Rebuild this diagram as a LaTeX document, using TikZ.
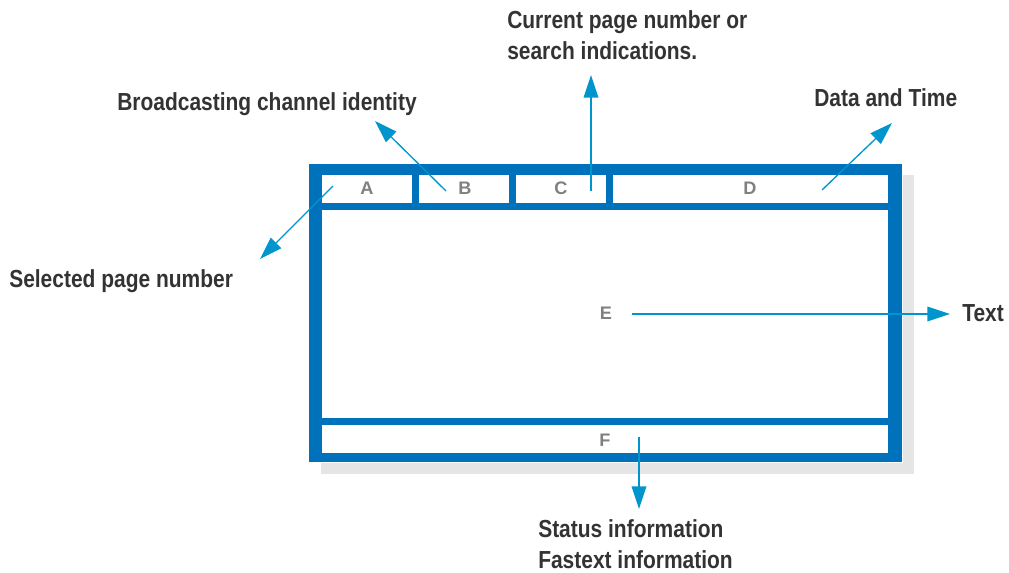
\documentclass[tikz,border=0pt]{standalone}
\usepackage{fontspec}
\setmainfont{Liberation Sans}
\newfontfamily\condfont[FakeStretch=0.85]{Liberation Sans}
\usepackage{xcolor}
\definecolor{ttblue}{RGB}{0,114,187}
\definecolor{ttcyan}{RGB}{0,150,205}
\definecolor{ttgray}{RGB}{128,128,128}
\definecolor{ttdark}{RGB}{51,51,51}
\definecolor{ttshadow}{RGB}{229,229,229}
\usetikzlibrary{arrows.meta}

\begin{document}
\begin{tikzpicture}[
    x={(0.75pt,0)}, y={(0,-0.75pt)},
    cell/.style={fill=white},
    letter/.style={font=\fontsize{13.6}{16}\selectfont\bfseries, text=ttgray, inner sep=0pt},
    callout/.style={font=\condfont\bfseries\fontsize{18.5}{23.25}\selectfont, text=ttdark,
                    inner sep=0pt, anchor=base west, align=left},
    pointer/.style={-{Triangle[length=17pt, width=11pt]}, ttcyan, line width=1pt}
  ]
    \useasboundingbox (0,0) rectangle (1009,573);

    % Screen frame with shadow
    \fill[ttshadow] (321,175) rectangle (914,474);
    \fill[white] (308,163) rectangle (903,463);
    \fill[ttblue] (309,164) rectangle (902,462);
    \fill[cell] (322,175) rectangle (412,203);
    \fill[cell] (419,175) rectangle (509,203);
    \fill[cell] (516,175) rectangle (606,203);
    \fill[cell] (613,175) rectangle (888,203);
    \fill[cell] (322,210) rectangle (888,418);
    \fill[cell] (322,425) rectangle (888,453);

    % Row letters
    \node[letter] (A) at (367,188) {A};
    \node[letter] (B) at (465,188) {B};
    \node[letter] (C) at (561,188) {C};
    \node[letter] (D) at (750,188) {D};
    \node[letter] (E) at (606,313) {E};
    \node[letter] (F) at (605,440) {F};

    % Callouts (two-line ones sit on their last baseline)
    \node[callout] (current) at (507,60) {Current page number or\\search indications.};
    \node[callout] (channel) at (117,111) {Broadcasting channel identity};
    \node[callout] (datetime) at (814,107) {Data and Time};
    \node[callout] (selected) at (9,288) {Selected page number};
    \node[callout] (text) at (962,321) {Text};
    \node[callout] (status) at (538,568) {Status information\\Fastext information};

    % Pointer ends
    \coordinate (a0) at (333,186);  \coordinate (a1) at (260,259);
    \coordinate (b0) at (446,191);  \coordinate (b1) at (375,121);
    \coordinate (c0) at (591,191);  \coordinate (c1) at (591,75);
    \coordinate (d0) at (822,190);  \coordinate (d1) at (892,123);
    \coordinate (e0) at (632,314);  \coordinate (e1) at (950,314);
    \coordinate (f0) at (639,437);  \coordinate (f1) at (639,509);

    % Pointers
    \draw[pointer] (a0) -- (a1);
    \draw[pointer] (b0) -- (b1);
    \draw[pointer] (c0) -- (c1);
    \draw[pointer] (d0) -- (d1);
    \draw[pointer] (e0) -- (e1);
    \draw[pointer] (f0) -- (f1);
\end{tikzpicture}
\end{document}
